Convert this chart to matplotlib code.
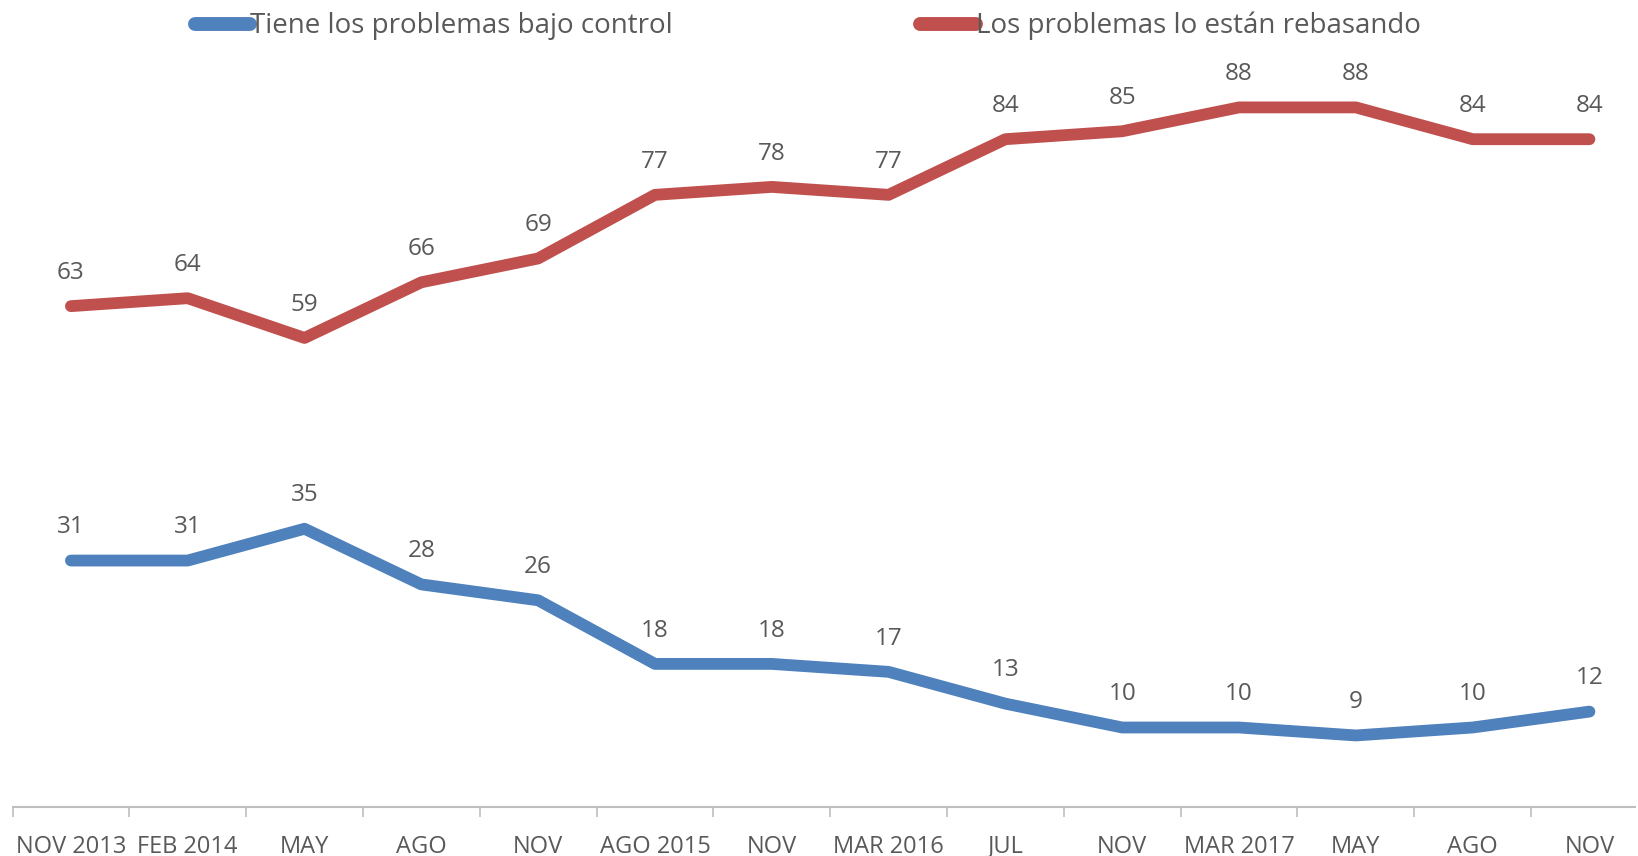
import matplotlib.pyplot as plt
import matplotlib.font_manager as fm

names = {f.name for f in fm.fontManager.ttflist}
fuente = 'Liberation Sans Narrow' if 'Liberation Sans Narrow' in names else 'Open Sans'
plt.rcParams['font.family'] = [fuente, 'DejaVu Sans']

fechas = ['NOV 2013', 'FEB 2014', 'MAY', 'AGO', 'NOV', 'AGO 2015', 'NOV',
          'MAR 2016', 'JUL', 'NOV', 'MAR 2017', 'MAY', 'AGO', 'NOV']
control = [31, 31, 35, 28, 26, 18, 18, 17, 13, 10, 10, 9, 10, 12]
rebasando = [63, 64, 59, 66, 69, 77, 78, 77, 84, 85, 88, 88, 84, 84]

azul = '#4F81BD'
rojo = '#C0504D'
gris = '#595959'

fig = plt.figure(figsize=(16.38, 8.56), dpi=100)
ax = fig.add_axes([12.5 / 1638, 49 / 856, 1622.5 / 1638, 795 / 856])

x = list(range(len(fechas)))
ax.plot(x, control, color=azul, lw=8.5, solid_joinstyle='round',
        solid_capstyle='round', label='Tiene los problemas bajo control')
ax.plot(x, rebasando, color=rojo, lw=8.5, solid_joinstyle='round',
        solid_capstyle='round', label='Los problemas lo están rebasando')

# etiquetas de datos
for serie in (control, rebasando):
    for i, v in enumerate(serie):
        ax.annotate(str(v), (i, v), xytext=(0, 24), textcoords='offset points',
                    ha='center', va='center', fontsize=17.5, color=gris)

ax.set_xlim(-0.5, len(fechas) - 0.61)
ax.set_ylim(0, 100)
ax.set_xticks(x)
ax.set_xticklabels(fechas, fontsize=17, color=gris)
ax.set_xticks([i - 0.5 for i in range(len(fechas))], minor=True)
ax.tick_params(axis='x', which='major', length=0, pad=20)
ax.tick_params(axis='x', which='minor', length=7, color='#BFBFBF', width=1.2)
ax.set_yticks([])
for s in ('top', 'right', 'left'):
    ax.spines[s].set_visible(False)
ax.spines['bottom'].set_color('#BFBFBF')
ax.spines['bottom'].set_linewidth(1.5)

leg = fig.legend(loc='center', bbox_to_anchor=(0.493, 1 - 26 / 856), ncol=2,
                 frameon=False, fontsize=20, handlelength=2.0,
                 handletextpad=0.0, columnspacing=8.9)
for t in leg.get_texts():
    t.set_color(gris)
for h in leg.legend_handles:
    h.set_linewidth(10)
    h.set_solid_capstyle('round')

fig.savefig('out.png', dpi=100)
